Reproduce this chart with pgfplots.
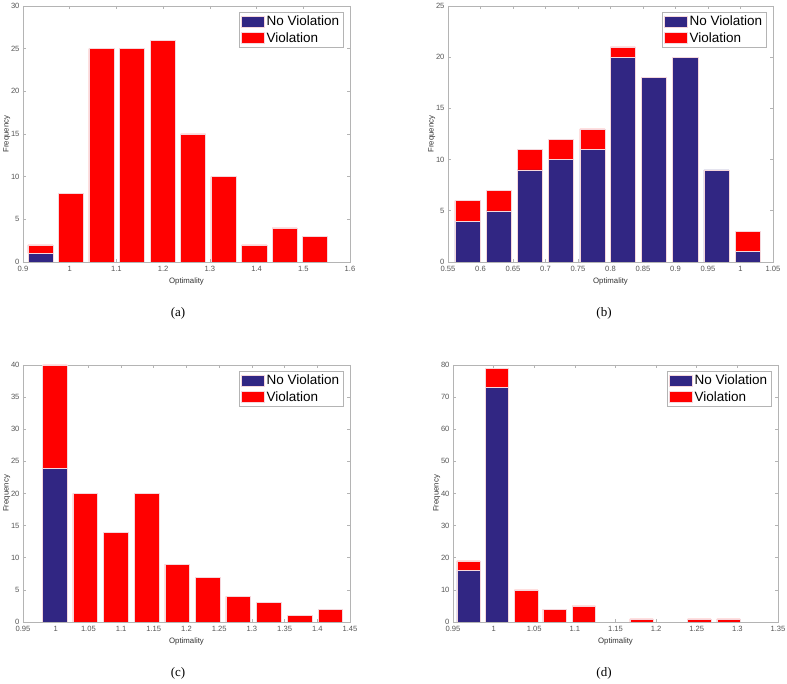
\documentclass[border=0pt]{standalone}
\usepackage{pgfplots}
\pgfplotsset{compat=1.18}
\usepackage{fontspec}
\setmainfont{Liberation Sans}
\newfontfamily\capfont{Liberation Serif}
\definecolor{nvblue}{RGB}{49,38,131}
\definecolor{vred}{RGB}{255,0,0}
\definecolor{axgray}{RGB}{180,180,180}
\definecolor{labgray}{RGB}{85,85,85}
\definecolor{edgec}{RGB}{245,215,220}
\pgfplotsset{
  mystyle/.style={
    scale only axis,
    anchor=south west,
    ybar stacked,
    ymin=0,
    axis line style={axgray, line width=0.6pt},
    tick style={axgray, line width=0.6pt},
    major tick length=3pt,
    tick align=inside,
    xtick pos=both, ytick pos=both,
    tick label style={font=\fontsize{7.6}{8}\selectfont, text=labgray},
    label style={font=\fontsize{7.8}{8}\selectfont, text=black!80},
    /pgf/number format/assume math mode=true,
    xticklabel style={/pgf/number format/fixed, /pgf/number format/precision=2, yshift=-1pt},
    scaled ticks=false,
    xlabel={Optimality},
    ylabel={Frequency},
    xlabel style={yshift=1pt},
    ylabel style={yshift=-6pt},
    legend style={at={(0.979,0.977)}, anchor=north east, draw=axgray,
      font=\fontsize{13.5}{14}\selectfont, inner sep=1.8pt, row sep=1.2pt,
      legend cell align=left},
    legend image code/.code={\fill[##1] (0pt,-5.5pt) rectangle (23pt,5.5pt);},
    every axis plot/.append style={draw=edgec, line width=0.5pt},
  }
}
\begin{document}
\begin{tikzpicture}[x=1pt,y=1pt]
\path[use as bounding box] (0pt,0pt) rectangle (787pt,684pt);
% (a)
\begin{axis}[mystyle, at={(23pt,422pt)}, width=327pt, height=256pt,
  xmin=0.9, xmax=1.6, ymax=30, xtick={0.9,1,...,1.6}, ytick={0,5,...,30}, bar width=0.0536]
\addplot[fill=nvblue] coordinates {(0.937,1) (1.003,0) (1.068,0) (1.133,0) (1.199,0) (1.264,0) (1.329,0) (1.395,0) (1.460,0) (1.525,0)};
\addplot[fill=vred] coordinates {(0.937,1) (1.003,8) (1.068,25) (1.133,25) (1.199,26) (1.264,15) (1.329,10) (1.395,2) (1.460,4) (1.525,3)};
\legend{No Violation, Violation}
\end{axis}
% (b)
\begin{axis}[mystyle, at={(448pt,422pt)}, width=325pt, height=256pt,
  xmin=0.55, xmax=1.05, ymax=25, xtick={0.55,0.6,...,1.06}, ytick={0,5,...,25}, bar width=0.0385]
\addplot[fill=nvblue] coordinates {(0.580,4) (0.628,5) (0.676,9) (0.724,10) (0.772,11) (0.819,20) (0.867,18) (0.915,20) (0.963,9) (1.011,1)};
\addplot[fill=vred] coordinates {(0.580,2) (0.628,2) (0.676,2) (0.724,2) (0.772,2) (0.819,1) (0.867,0) (0.915,0) (0.963,0) (1.011,2)};
\legend{No Violation, Violation}
\end{axis}
% (c)
\begin{axis}[mystyle, at={(23pt,62pt)}, width=327pt, height=257pt,
  xmin=0.95, xmax=1.45, ymax=40, xtick={0.95,1,...,1.46}, ytick={0,5,...,40}, bar width=0.0378]
\addplot[fill=nvblue] coordinates {(0.999,24) (1.045,0) (1.092,0) (1.139,0) (1.186,0) (1.233,0) (1.279,0) (1.326,0) (1.373,0) (1.420,0)};
\addplot[fill=vred] coordinates {(0.999,16) (1.045,20) (1.092,14) (1.139,20) (1.186,9) (1.233,7) (1.279,4) (1.326,3) (1.373,1) (1.420,2)};
\legend{No Violation, Violation}
\end{axis}
% (d)
\begin{axis}[mystyle, at={(453pt,62pt)}, width=325pt, height=257pt,
  xmin=0.95, xmax=1.35, ymax=80, xtick={0.95,1,...,1.36}, ytick={0,10,...,80}, bar width=0.0287]
\addplot[fill=nvblue] coordinates {(0.969,16) (1.004,73) (1.040,0) (1.075,0) (1.111,0) (1.147,0) (1.182,0) (1.218,0) (1.253,0) (1.289,0)};
\addplot[fill=vred] coordinates {(0.969,3) (1.004,6) (1.040,10) (1.075,4) (1.111,5) (1.147,0) (1.182,1) (1.218,0) (1.253,1) (1.289,1)};
\legend{No Violation, Violation}
\end{axis}
\node[font=\capfont\fontsize{13}{14}\selectfont] at (178pt,371pt) {(a)};
\node[font=\capfont\fontsize{13}{14}\selectfont] at (604pt,371pt) {(b)};
\node[font=\capfont\fontsize{13}{14}\selectfont] at (178pt,11pt) {(c)};
\node[font=\capfont\fontsize{13}{14}\selectfont] at (604pt,11pt) {(d)};
\end{tikzpicture}
\end{document}
